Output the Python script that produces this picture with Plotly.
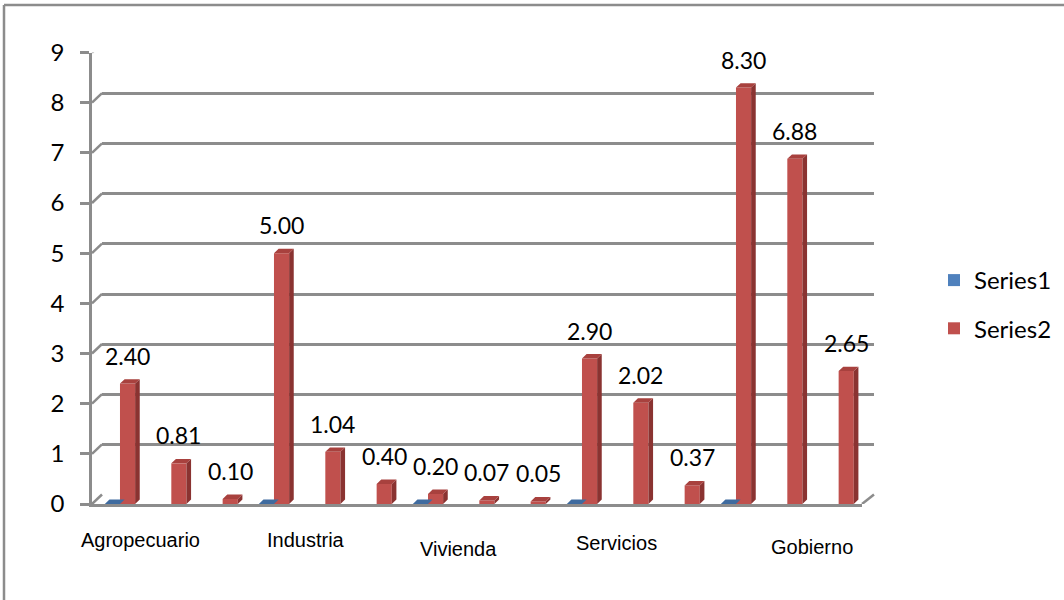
import plotly.graph_objects as go

# ---------------- data ----------------
group_labels = ["Agropecuario", "Industria", "Vivienda", "Servicios", "Gobierno"]
series1 = [0, None, None, 0, None, None, 0, None, None, 0, None, None, 0, None, None]
series2 = [2.40, 0.81, 0.10, 5.00, 1.04, 0.40, 0.20, 0.07, 0.05, 2.90, 2.02, 0.37, 8.30, 6.88, 2.65]
y_ticks = [0, 1, 2, 3, 4, 5, 6, 7, 8, 9]

# ---------------- style / layout constants ----------------
W, H = 1064, 600
def px(x):
    return x / W
def py(y):
    return 1 - y / H

GRID = "#8c8c8c"
RED, RED_SIDE, RED_TOP = "#c0504d", "#8a3331", "#a8413e"
BLUE, BLUE_TOP = "#4f81bd", "#3f6b9f"
LABEL_FONT = "Lato"
CAT_FONT = "Liberation Sans"

# front plane (axis) and back wall pixel geometry
FRONT_X = (92, 862)
FRONT_Y = (504, 52.5)
BACK_X = (102, 874)
BACK_Y = (494.5, 43.5)
WALL_DY = (FRONT_Y[0] - BACK_Y[0]) / ((FRONT_Y[0] - FRONT_Y[1]) / 9)

# bar geometry (category units / value units)
S2_OFF, S1_OFF, BAR_W = 0.045, -0.25, 0.295
DX, DY = 0.09, 0.088

# category label placement (pixel centres)
group_label_px = [(140, 540), (306, 540), (458, 549), (616, 543), (812, 547)]

xs = list(range(len(series2)))

fig = go.Figure()

# back wall subplot (carries the grid only)
fig.add_trace(go.Scatter(x=[None], y=[None], mode="markers", showlegend=False,
                         hoverinfo="skip", xaxis="x", yaxis="y"))

# Series1 (front faces, zero height) + top slabs
fig.add_trace(go.Bar(
    x=xs, y=series1, offset=S1_OFF, width=BAR_W, name="Series1",
    marker=dict(color=BLUE, line=dict(width=0)), xaxis="x2", yaxis="y2",
    legendgroup="s1",
))
tx, ty = [], []
for i, v in zip(xs, series1):
    if v is None:
        continue
    xl, xr = i + S1_OFF, i + S1_OFF + BAR_W
    tx += [xl, xl + DX, xr + DX, xr, xl, None]
    ty += [v, v + DY, v + DY, v, v, None]
fig.add_trace(go.Scatter(x=tx, y=ty, fill="toself", fillcolor=BLUE_TOP, mode="none",
                         showlegend=False, hoverinfo="skip", xaxis="x2", yaxis="y2"))

# Series2 front faces
fig.add_trace(go.Bar(
    x=xs, y=series2, offset=S2_OFF, width=BAR_W, name="Series2",
    marker=dict(color=RED, line=dict(width=0)), xaxis="x2", yaxis="y2",
    legendgroup="s2",
))
sx, sy, tx, ty = [], [], [], []
for i, v in zip(xs, series2):
    xl, xr = i + S2_OFF, i + S2_OFF + BAR_W
    sx += [xr, xr + DX, xr + DX, xr, xr, None]
    sy += [0, DY, v + DY, v, 0, None]
    tx += [xl, xl + DX, xr + DX, xr, xl, None]
    ty += [v, v + DY, v + DY, v, v, None]
fig.add_trace(go.Scatter(x=sx, y=sy, fill="toself", fillcolor=RED_SIDE, mode="none",
                         showlegend=False, hoverinfo="skip", xaxis="x2", yaxis="y2"))
fig.add_trace(go.Scatter(x=tx, y=ty, fill="toself", fillcolor=RED_TOP, mode="none",
                         showlegend=False, hoverinfo="skip", xaxis="x2", yaxis="y2"))

annotations = []
for i, v in zip(xs, series2):
    annotations.append(dict(
        x=i + S2_OFF + BAR_W / 2, y=v, xref="x2", yref="y2", text=f"{v:.2f}",
        showarrow=False, yshift=28, yanchor="middle",
        font=dict(family=LABEL_FONT, size=23, color="black"),
    ))
for lab, (lx, ly) in zip(group_labels, group_label_px):
    annotations.append(dict(
        x=px(lx), y=py(ly), xref="paper", yref="paper", text=lab, showarrow=False,
        xanchor="center", yanchor="middle",
        font=dict(family=CAT_FONT, size=20, color="black"),
    ))

shapes = []
# outer chart border (top and left)
shapes.append(dict(type="line", xref="paper", yref="paper", x0=px(4), x1=1.01, y0=py(5), y1=py(5),
                   line=dict(color=GRID, width=2.5)))
shapes.append(dict(type="line", xref="paper", yref="paper", x0=px(4), x1=px(4), y0=py(5), y1=-0.01,
                   line=dict(color=GRID, width=2.5)))
# left wall diagonals from front ticks to back gridlines
for k in y_ticks:
    shapes.append(dict(type="line", xref="paper", yref="y2", x0=px(FRONT_X[0]), x1=px(BACK_X[0]),
                       y0=k, y1=k + WALL_DY, line=dict(color=GRID, width=2.5)))
# right floor diagonal
shapes.append(dict(type="line", xref="paper", yref="y2", x0=px(FRONT_X[1]), x1=px(BACK_X[1]),
                   y0=0, y1=WALL_DY, line=dict(color=GRID, width=2.5)))

fig.update_layout(
    width=W, height=H,
    margin=dict(l=0, r=0, t=0, b=0, autoexpand=False),
    paper_bgcolor="white", plot_bgcolor="rgba(0,0,0,0)",
    barmode="overlay",
    showlegend=True,
    legend=dict(x=px(934), y=py(258), xanchor="left", yanchor="top",
                font=dict(family=LABEL_FONT, size=24, color="black"),
                traceorder="grouped", tracegroupgap=14, bgcolor="rgba(0,0,0,0)"),
    # back wall (grid only)
    xaxis=dict(domain=[px(BACK_X[0]), px(BACK_X[1])], range=[-0.5, 14.5], showgrid=False,
               zeroline=False, showline=False, showticklabels=False, ticks="",
               automargin=False, fixedrange=True, anchor="y"),
    yaxis=dict(domain=[py(BACK_Y[0]), py(BACK_Y[1])], range=[0, 9], tickvals=y_ticks,
               showgrid=True, gridcolor=GRID, gridwidth=2.5, showticklabels=False,
               ticks="", zeroline=False, showline=False, anchor="x", automargin=False,
               fixedrange=True),
    # front plane (bars, axis, ticks)
    xaxis2=dict(domain=[px(FRONT_X[0]), px(FRONT_X[1])], range=[-0.5, 14.5], showgrid=False,
                zeroline=False, showline=True, linecolor=GRID, linewidth=2.5,
                showticklabels=False, ticks="", anchor="y2", automargin=False, fixedrange=True),
    yaxis2=dict(domain=[py(FRONT_Y[0]), py(FRONT_Y[1])], range=[0, 9], tickvals=y_ticks,
                showgrid=False, zeroline=False, showline=True, linecolor=GRID, linewidth=2.5,
                ticks="outside", ticklen=9, tickwidth=2.5, tickcolor=GRID,
                ticklabelstandoff=11,
                tickfont=dict(family=LABEL_FONT, size=24, color="black"),
                anchor="x2", automargin=False, fixedrange=True),
    annotations=annotations,
    shapes=shapes,
)

fig.write_html("out.html")
